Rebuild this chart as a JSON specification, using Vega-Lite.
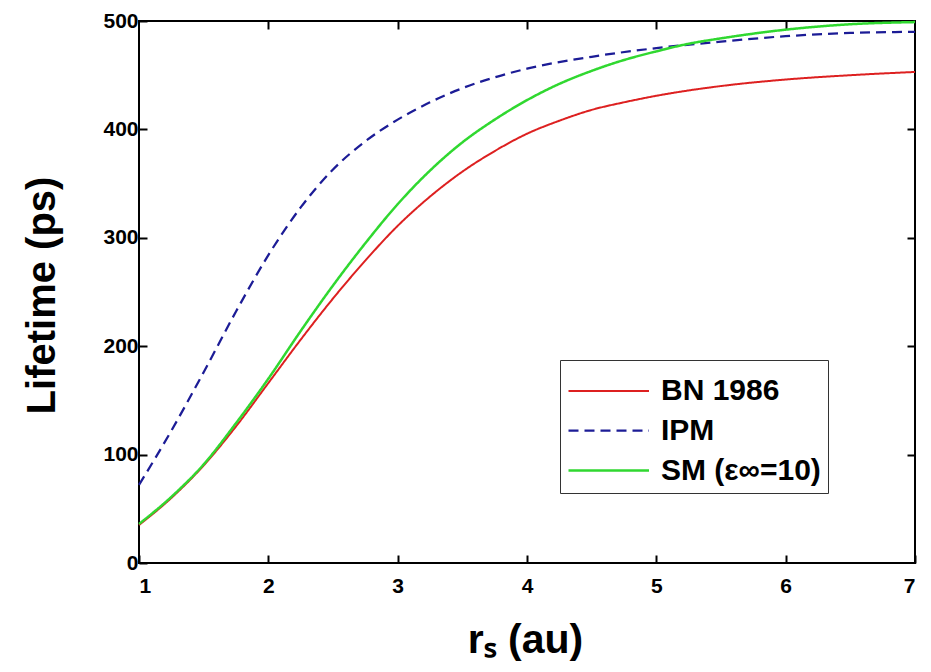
{
  "$schema": "https://vega.github.io/schema/vega-lite/v6.json",
  "width": 776,
  "height": 542,
  "autosize": "none",
  "padding": {"left": 139, "top": 21, "right": 16, "bottom": 109},
  "background": "white",
  "config": {
    "view": {"stroke": "black", "strokeWidth": 2},
    "font": "Liberation Sans",
    "legend": {
      "strokeColor": "#333333", "fillColor": "white", "padding": 7,
      "symbolType": "M-1,0H2.5", "symbolSize": 2116,
      "labelFont": "Liberation Sans", "labelFontSize": 30, "labelFontWeight": "bold", "labelColor": "black",
      "labelOffset": 45, "rowPadding": 0, "labelLimit": 300
    }
  },
  "data": {
    "values": [
      {"r": 1.0, "t": 35, "model": "BN 1986"},
      {"r": 1.25, "t": 60, "model": "BN 1986"},
      {"r": 1.5, "t": 90, "model": "BN 1986"},
      {"r": 1.75, "t": 126, "model": "BN 1986"},
      {"r": 2.0, "t": 166, "model": "BN 1986"},
      {"r": 2.25, "t": 206, "model": "BN 1986"},
      {"r": 2.5, "t": 244, "model": "BN 1986"},
      {"r": 2.75, "t": 279, "model": "BN 1986"},
      {"r": 3.0, "t": 311, "model": "BN 1986"},
      {"r": 3.25, "t": 338, "model": "BN 1986"},
      {"r": 3.5, "t": 361, "model": "BN 1986"},
      {"r": 3.75, "t": 380, "model": "BN 1986"},
      {"r": 4.0, "t": 396, "model": "BN 1986"},
      {"r": 4.25, "t": 408, "model": "BN 1986"},
      {"r": 4.5, "t": 418, "model": "BN 1986"},
      {"r": 4.75, "t": 425, "model": "BN 1986"},
      {"r": 5.0, "t": 431, "model": "BN 1986"},
      {"r": 5.5, "t": 440, "model": "BN 1986"},
      {"r": 6.0, "t": 446, "model": "BN 1986"},
      {"r": 6.5, "t": 450, "model": "BN 1986"},
      {"r": 7.0, "t": 453, "model": "BN 1986"},
      {"r": 1.0, "t": 72, "model": "IPM"},
      {"r": 1.25, "t": 122, "model": "IPM"},
      {"r": 1.5, "t": 176, "model": "IPM"},
      {"r": 1.75, "t": 232, "model": "IPM"},
      {"r": 2.0, "t": 284, "model": "IPM"},
      {"r": 2.25, "t": 328, "model": "IPM"},
      {"r": 2.5, "t": 363, "model": "IPM"},
      {"r": 2.75, "t": 389, "model": "IPM"},
      {"r": 3.0, "t": 409, "model": "IPM"},
      {"r": 3.25, "t": 425, "model": "IPM"},
      {"r": 3.5, "t": 438, "model": "IPM"},
      {"r": 3.75, "t": 448, "model": "IPM"},
      {"r": 4.0, "t": 456, "model": "IPM"},
      {"r": 4.5, "t": 467, "model": "IPM"},
      {"r": 5.0, "t": 475, "model": "IPM"},
      {"r": 5.5, "t": 481, "model": "IPM"},
      {"r": 6.0, "t": 486, "model": "IPM"},
      {"r": 6.5, "t": 489, "model": "IPM"},
      {"r": 7.0, "t": 490, "model": "IPM"},
      {"r": 1.0, "t": 36, "model": "SM (ε∞=10)"},
      {"r": 1.25, "t": 61, "model": "SM (ε∞=10)"},
      {"r": 1.5, "t": 91, "model": "SM (ε∞=10)"},
      {"r": 1.75, "t": 129, "model": "SM (ε∞=10)"},
      {"r": 2.0, "t": 170, "model": "SM (ε∞=10)"},
      {"r": 2.25, "t": 214, "model": "SM (ε∞=10)"},
      {"r": 2.5, "t": 256, "model": "SM (ε∞=10)"},
      {"r": 2.75, "t": 295, "model": "SM (ε∞=10)"},
      {"r": 3.0, "t": 331, "model": "SM (ε∞=10)"},
      {"r": 3.25, "t": 362, "model": "SM (ε∞=10)"},
      {"r": 3.5, "t": 388, "model": "SM (ε∞=10)"},
      {"r": 3.75, "t": 409, "model": "SM (ε∞=10)"},
      {"r": 4.0, "t": 427, "model": "SM (ε∞=10)"},
      {"r": 4.25, "t": 442, "model": "SM (ε∞=10)"},
      {"r": 4.5, "t": 454, "model": "SM (ε∞=10)"},
      {"r": 4.75, "t": 464, "model": "SM (ε∞=10)"},
      {"r": 5.0, "t": 472, "model": "SM (ε∞=10)"},
      {"r": 5.25, "t": 479, "model": "SM (ε∞=10)"},
      {"r": 5.5, "t": 484, "model": "SM (ε∞=10)"},
      {"r": 6.0, "t": 492, "model": "SM (ε∞=10)"},
      {"r": 6.5, "t": 497, "model": "SM (ε∞=10)"},
      {"r": 7.0, "t": 499, "model": "SM (ε∞=10)"}
    ]
  },
  "resolve": {"axis": {"x": "independent", "y": "independent"}},
  "layer": [
    {
      "mark": {"type": "line", "interpolate": "monotone"},
      "encoding": {
        "x": {
          "field": "r", "type": "quantitative",
          "scale": {"domain": [1, 7], "nice": false, "zero": false},
          "axis": {
            "values": [1, 2, 3, 4, 5, 6, 7], "format": "d",
            "tickSize": -8, "tickWidth": 2, "tickColor": "black",
            "domain": false, "grid": false,
            "labelFont": "Liberation Sans", "labelFontSize": 21, "labelFontWeight": "bold", "labelColor": "black",
            "labelPadding": 20,
            "title": "rₛ (au)", "titleFont": "Liberation Sans", "titleFontSize": 41, "titleFontWeight": "bold", "titleColor": "black",
            "titleX": 386, "titleY": 77, "titleBaseline": "middle", "titleAlign": "center"
          }
        },
        "y": {
          "field": "t", "type": "quantitative",
          "scale": {"domain": [0, 500], "nice": false},
          "axis": {
            "values": [0, 100, 200, 300, 400, 500],
            "tickSize": -8, "tickWidth": 2, "tickColor": "black",
            "domain": false, "grid": false,
            "labelFont": "Liberation Sans", "labelFontSize": 21, "labelFontWeight": "bold", "labelColor": "black",
            "labelPadding": 9,
            "title": "Lifetime (ps)", "titleFont": "Liberation Sans", "titleFontSize": 40, "titleFontWeight": "bold", "titleColor": "black",
            "titleX": -97, "titleY": 274, "titleAngle": -90, "titleBaseline": "middle", "titleAlign": "center"
          }
        },
        "color": {
          "field": "model", "type": "nominal",
          "scale": {"domain": ["BN 1986", "IPM", "SM (ε∞=10)"], "range": ["#dd2020", "#1c1c96", "#30d830"]},
          "legend": {"orient": "none", "legendX": 421, "legendY": 339, "title": null}
        },
        "strokeDash": {
          "field": "model", "type": "nominal",
          "scale": {"domain": ["BN 1986", "IPM", "SM (ε∞=10)"], "range": [[1, 0], [10, 6], [1, 0]]},
          "legend": {"orient": "none", "legendX": 421, "legendY": 339, "title": null}
        },
        "strokeWidth": {
          "field": "model", "type": "ordinal",
          "scale": {"domain": ["BN 1986", "IPM", "SM (ε∞=10)"], "range": [2, 2.5, 3.5]},
          "legend": {"orient": "none", "legendX": 421, "legendY": 339, "title": null}
        }
      }
    },
    {
      "mark": {"type": "line", "opacity": 0},
      "encoding": {
        "x": {
          "field": "r", "type": "quantitative",
          "axis": {"orient": "top", "values": [2, 3, 4, 5, 6], "labels": false, "domain": false, "grid": false, "tickSize": -8, "tickWidth": 2, "tickColor": "black", "title": null}
        },
        "y": {
          "field": "t", "type": "quantitative",
          "axis": {"orient": "right", "values": [100, 200, 300, 400], "labels": false, "domain": false, "grid": false, "tickSize": -8, "tickWidth": 2, "tickColor": "black", "title": null}
        },
        "detail": {"field": "model", "type": "nominal"}
      }
    }
  ]
}
